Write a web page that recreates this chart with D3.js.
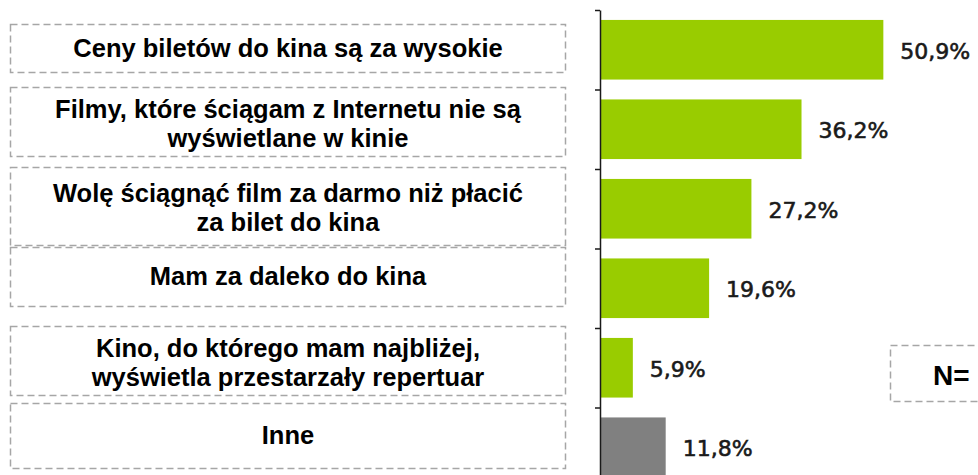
<!DOCTYPE html>
<html>
<head>
<meta charset="utf-8">
<script src="https://cdn.jsdelivr.net/npm/d3@7"></script>
<style>
  body { margin: 0; background: #fff; }
  svg { display: block; }
</style>
</head>
<body>
<div class="graph"></div>
<script>
// data
var categories = [
  "Ceny biletów do kina są za wysokie",
  "Filmy, które ściągam z Internetu nie są wyświetlane w kinie",
  "Wolę ściągnąć film za darmo niż płacić za bilet do kina",
  "Mam za daleko do kina",
  "Kino, do którego mam najbliżej, wyświetla przestarzały repertuar",
  "Inne"
];
var labelLines = [
  ["Ceny biletów do kina są za wysokie"],
  ["Filmy, które ściągam z Internetu nie są", "wyświetlane w kinie"],
  ["Wolę ściągnąć film za darmo niż płacić", "za bilet do kina"],
  ["Mam za daleko do kina"],
  ["Kino, do którego mam najbliżej,", "wyświetla przestarzały repertuar"],
  ["Inne"]
];
var values = [50.9, 36.2, 27.2, 19.6, 5.9, 11.8];
var valueLabels = ["50,9%", "36,2%", "27,2%", "19,6%", "5,9%", "11,8%"];
var sampleNote = "N= 1";

var width = 978, height = 475;
var green = "#99cc00", grey = "#808080", dashColor = "#a6a6a6";

// label frames on the left (top, bottom) - layout only
var frames = [[24, 72], [87, 156], [167, 245], [247, 306], [326, 395], [403, 468]];

var svg = d3.select("div.graph").append("svg")
    .attr("width", width)
    .attr("height", height);

var x = d3.scaleLinear().domain([0, 60]).range([600, 934]);
var y = d3.scaleBand().domain(categories).range([10, 487])
    .paddingInner(0.25).paddingOuter(0.125);

// bars
svg.selectAll("rect.bar")
  .data(values)
  .enter().append("rect")
    .attr("class", "bar")
    .attr("x", x(0))
    .attr("y", function(d, i) { return y(categories[i]); })
    .attr("width", function(d) { return x(d) - x(0); })
    .attr("height", y.bandwidth())
    .attr("fill", function(d, i) { return categories[i] === "Inne" ? grey : green; });

// value labels
svg.selectAll("text.val")
  .data(values)
  .enter().append("text")
    .attr("class", "val")
    .attr("x", function(d) { return x(d) + 17; })
    .attr("y", function(d, i) { return y(categories[i]) + y.bandwidth() / 2 + 1; })
    .attr("dy", "0.36em")
    .attr("font-family", "DejaVu Sans, Verdana, sans-serif")
    .attr("font-size", 22)
    .attr("fill", "#1a1a1a")
    .attr("stroke", "#1a1a1a")
    .attr("stroke-width", 0.6)
    .text(function(d, i) { return valueLabels[i]; });

// category axis: line with ticks at band borders
var yb = d3.scaleLinear().domain([0, categories.length]).range([10, 10 + y.step() * categories.length]);
svg.append("g")
    .attr("transform", "translate(" + x(0) + ",0)")
    .call(d3.axisLeft(yb).tickValues(d3.range(0, categories.length + 1)).tickSize(5).tickSizeOuter(0).tickFormat(""))
    .call(function(g) {
      g.selectAll("path, line").attr("stroke", "#1a1a1a").attr("stroke-width", 1.5);
    });

// left label frames
var lab = svg.selectAll("g.lab")
  .data(labelLines)
  .enter().append("g")
    .attr("class", "lab");

lab.append("rect")
    .attr("x", 10.5)
    .attr("y", function(d, i) { return frames[i][0] + 0.5; })
    .attr("width", 555)
    .attr("height", function(d, i) { return frames[i][1] - frames[i][0]; })
    .attr("fill", "none")
    .attr("stroke", dashColor)
    .attr("stroke-width", 1.5)
    .attr("stroke-dasharray", "7,4");

lab.each(function(lines, i) {
  var cy = (frames[i][0] + frames[i][1]) / 2 + (lines.length > 1 ? 2 : 0);
  var lh = 29;
  var t = d3.select(this).append("text")
      .attr("text-anchor", "middle")
      .attr("font-family", "Liberation Sans, Arial, sans-serif")
      .attr("font-weight", "bold")
      .attr("font-size", 25.5)
      .attr("fill", "#000");
  lines.forEach(function(line, k) {
    t.append("tspan")
      .attr("x", 288)
      .attr("y", cy + (k - (lines.length - 1) / 2) * lh)
      .attr("dy", "0.35em")
      .text(line);
  });
});

// sample size box (cut by the right edge, as in the source)
svg.append("rect")
    .attr("x", 890.5)
    .attr("y", 345.5)
    .attr("width", 120)
    .attr("height", 56)
    .attr("fill", "none")
    .attr("stroke", dashColor)
    .attr("stroke-width", 1.5)
    .attr("stroke-dasharray", "7,4");

svg.append("text")
    .attr("x", 933)
    .attr("y", 375)
    .attr("dy", "0.35em")
    .attr("font-family", "Liberation Sans, Arial, sans-serif")
    .attr("font-weight", "bold")
    .attr("font-size", 28)
    .attr("fill", "#000")
    .text(sampleNote);
</script>
</body>
</html>
